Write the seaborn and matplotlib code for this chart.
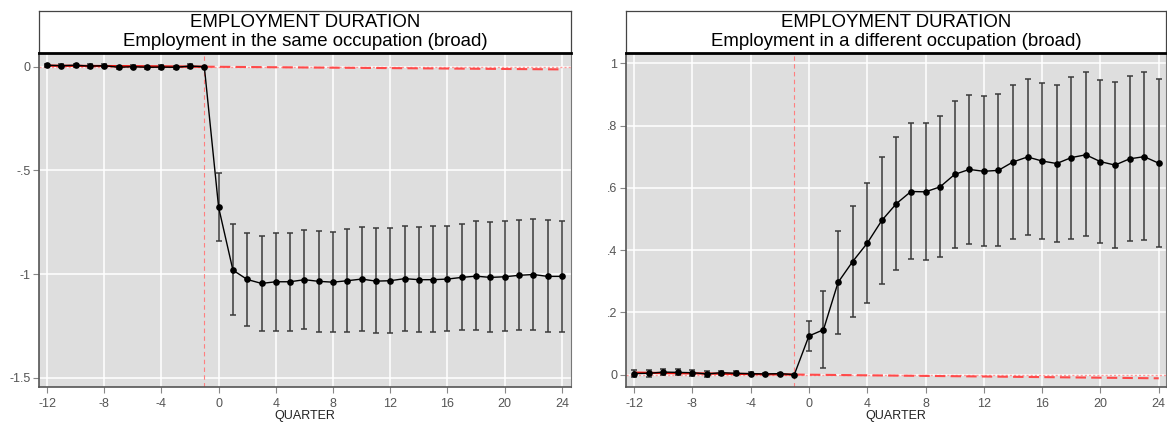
import matplotlib
matplotlib.use("Agg")
import matplotlib.pyplot as plt
import seaborn as sns
import pandas as pd

# event time (quarters relative to job loss)
quarters = list(range(-12, 25))

# panel 1: employment in the same occupation
same_coef = [0.007, 0.005, 0.007, 0.003, 0.005, -0.003, 0.0, -0.003, -0.002, -0.003, 0.003, 0.0,
             -0.678, -0.981, -1.026, -1.045, -1.037, -1.037, -1.027, -1.035, -1.039, -1.032,
             -1.024, -1.034, -1.032, -1.022, -1.027, -1.027, -1.024, -1.016, -1.010, -1.016,
             -1.013, -1.006, -1.002, -1.011, -1.011]
same_hi = [0.015, 0.013, 0.015, 0.011, 0.013, 0.005, 0.008, 0.005, 0.006, 0.005, 0.011, 0.0,
           -0.514, -0.759, -0.801, -0.815, -0.804, -0.804, -0.788, -0.794, -0.797, -0.785,
           -0.772, -0.780, -0.777, -0.768, -0.772, -0.768, -0.768, -0.759, -0.746, -0.749,
           -0.746, -0.740, -0.733, -0.740, -0.742]
same_lo = [-0.001, -0.003, -0.001, -0.005, -0.003, -0.011, -0.008, -0.011, -0.010, -0.011, -0.005, 0.0,
           -0.839, -1.198, -1.251, -1.275, -1.273, -1.273, -1.267, -1.278, -1.280, -1.278,
           -1.275, -1.286, -1.284, -1.275, -1.281, -1.281, -1.275, -1.272, -1.270, -1.281,
           -1.275, -1.270, -1.270, -1.281, -1.280]

# panel 2: employment in a different occupation
diff_coef = [0.003, 0.004, 0.008, 0.007, 0.006, 0.002, 0.006, 0.004, 0.003, 0.002, 0.003, 0.0,
             0.124, 0.144, 0.296, 0.363, 0.422, 0.495, 0.549, 0.588, 0.587, 0.603,
             0.643, 0.659, 0.653, 0.656, 0.683, 0.699, 0.686, 0.678, 0.697, 0.706,
             0.684, 0.673, 0.693, 0.700, 0.679]
diff_hi = [0.014, 0.015, 0.019, 0.017, 0.016, 0.011, 0.013, 0.010, 0.007, 0.006, 0.006, 0.0,
           0.172, 0.269, 0.462, 0.543, 0.614, 0.700, 0.762, 0.808, 0.808, 0.830,
           0.878, 0.899, 0.894, 0.900, 0.929, 0.949, 0.936, 0.929, 0.957, 0.972,
           0.947, 0.939, 0.960, 0.971, 0.949]
diff_lo = [-0.008, -0.007, -0.003, -0.003, -0.004, -0.007, -0.001, -0.002, -0.001, -0.002, 0.0, 0.0,
           0.076, 0.020, 0.131, 0.185, 0.230, 0.292, 0.337, 0.370, 0.368, 0.377,
           0.406, 0.420, 0.412, 0.412, 0.436, 0.448, 0.436, 0.426, 0.436, 0.444,
           0.423, 0.408, 0.428, 0.431, 0.410]

# pre-trend fit: value at start, at reference quarter, and extrapolated to end
trend_q = [-12, -1, 24]
same_trend = [0.005, 0.0, -0.013]
diff_trend = [0.006, 0.0, -0.012]

titles = ["Employment in the same occupation (broad)",
          "Employment in a different occupation (broad)"]
same_yticks = [0, -0.5, -1, -1.5]
same_ylabels = ["0", "-.5", "-1", "-1.5"]
diff_yticks = [0, 0.2, 0.4, 0.6, 0.8, 1]
diff_ylabels = ["0", ".2", ".4", ".6", ".8", "1"]
xticks = list(range(-12, 25, 4))

sns.set_theme(style="darkgrid", rc={
    "axes.facecolor": "#dedede",
    "grid.color": "white",
    "grid.linewidth": 1.1,
    "axes.edgecolor": "#555555",
    "axes.linewidth": 1.2,
    "xtick.bottom": True,
    "ytick.left": True,
    "xtick.color": "#888888",
    "ytick.color": "#888888",
    "xtick.labelcolor": "#555555",
    "ytick.labelcolor": "#555555",
})
plt.rcParams['font.family'] = ['Liberation Sans', 'DejaVu Sans']

fig = plt.figure(figsize=(11.67, 4.23), dpi=100)

panels = [
    dict(coef=same_coef, lo=same_lo, hi=same_hi, trend=same_trend, title=titles[0],
         yticks=same_yticks, ylabels=same_ylabels, ylim=(-1.543, 0.0675),
         xlim=(-12.56, 24.62), rect=[39 / 1167, 36.3 / 423, 531.7 / 1167, 334 / 423]),
    dict(coef=diff_coef, lo=diff_lo, hi=diff_hi, trend=diff_trend, title=titles[1],
         yticks=diff_yticks, ylabels=diff_ylabels, ylim=(-0.039, 1.034),
         xlim=(-12.57, 24.5), rect=[625.7 / 1167, 36.3 / 423, 540.3 / 1167, 334 / 423]),
]

for p in panels:
    df = pd.DataFrame({"quarter": quarters, "coef": p["coef"], "lo": p["lo"], "hi": p["hi"]})
    ax = fig.add_axes(p["rect"])

    # reference lines
    ax.axhline(0, color="#ff9a9a", lw=1.0, ls=(0, (1.5, 1.5)), zorder=1)
    ax.axvline(-1, color="#ff7f7f", lw=0.8, ls=(0, (4, 3)), zorder=1)

    # pre-trend: solid over the pre-period, dashed extrapolation afterwards
    ax.plot(trend_q[:2], p["trend"][:2], color="#e8120c", lw=1.6, zorder=2)
    ax.plot(trend_q[1:], p["trend"][1:], color="#ff4a4a", lw=1.5, ls=(0, (5, 2.5)), zorder=2)

    # confidence intervals
    ax.errorbar(df["quarter"], df["coef"],
                yerr=[df["coef"] - df["lo"], df["hi"] - df["coef"]],
                fmt="none", ecolor="#3a3a3a", elinewidth=1.1, capsize=2.3, capthick=1.1, zorder=3)

    sns.lineplot(data=df, x="quarter", y="coef", ax=ax, color="black", lw=1.0,
                 marker="o", markersize=4.8, markeredgewidth=0, zorder=4)

    ax.set_xlim(p["xlim"])
    ax.set_ylim(p["ylim"])
    ax.set_xticks(xticks)
    ax.set_xticklabels([str(t) for t in xticks], fontsize=9)
    ax.set_yticks(p["yticks"])
    ax.set_yticklabels(p["ylabels"], fontsize=9)
    ax.tick_params(axis="x", length=4.5, width=0.8, pad=3.5)
    ax.tick_params(axis="y", length=4.5, width=0.8, pad=1.5)
    ax.set_xlabel("QUARTER", fontsize=9, color="#222222", labelpad=0)
    ax.set_ylabel("")
    for s in ["top", "right"]:
        ax.spines[s].set_color("#777777")
        ax.spines[s].set_linewidth(0.8)

    # title box above plot region
    r = p["rect"]
    hx = fig.add_axes([r[0], r[1] + r[3], r[2], 42 / 423])
    hx.set_facecolor("white")
    hx.grid(False)
    hx.set_xticks([])
    hx.set_yticks([])
    for s in hx.spines.values():
        s.set_color("#444444")
        s.set_linewidth(0.9)
    hx.spines["bottom"].set_color("black")
    hx.spines["bottom"].set_linewidth(2.0)
    hx.text(0.5, 0.71, "EMPLOYMENT DURATION", ha="center", va="center",
            fontsize=13.4, color="black", transform=hx.transAxes)
    hx.text(0.5, 0.27, p["title"], ha="center", va="center",
            fontsize=13.4, color="black", transform=hx.transAxes)

fig.savefig("out.png", dpi=100)
